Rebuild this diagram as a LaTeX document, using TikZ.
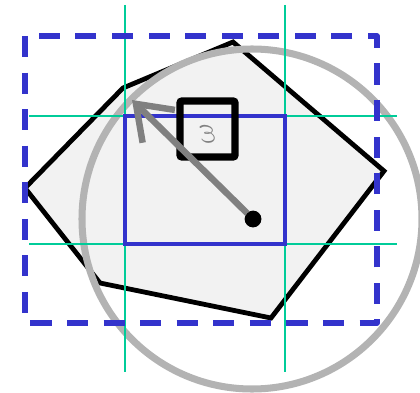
\documentclass[tikz,border=0pt]{standalone}
\usetikzlibrary{arrows.meta}
\definecolor{boxblue}{RGB}{51, 51, 204}
\definecolor{gridgreen}{RGB}{0, 204, 153}
\definecolor{ringgray}{RGB}{179, 179, 179}
\definecolor{arrowgray}{RGB}{128, 128, 128}
\definecolor{shapefill}{RGB}{242, 242, 242}

\begin{document}
\begin{tikzpicture}[
        x=0.025cm, y=-0.025cm,
        hull/.style={draw=black, fill=shapefill, line width=3.4pt, line join=miter},
        guide/.style={gridgreen, line width=1.5pt},
        bbox/.style={draw=boxblue, line width=4pt, dash pattern=on 15pt off 11pt, line join=round},
        cell/.style={draw=boxblue, line width=3.4pt},
        eps/.style={draw=black, line width=5.2pt, rounded corners=1.5pt},
        ring/.style={draw=ringgray, line width=5pt},
        arr/.style={-{Straight Barb[length=0.8cm, width=1.15cm]}, arrowgray, line width=4.6pt, line cap=round}
    ]
        \useasboundingbox (0,0) rectangle (420,393);

        % Shape and circle
        \draw[hull] (233,42) -- (384,171) -- (271,318) -- (100,283) -- (25,188) -- (123,88) -- cycle;
        \draw[ring] (252,219) circle (170);

        % Grid lines
        \draw[guide] (125,5) -- (125,372);
        \draw[guide] (285,5) -- (285,372);
        \draw[guide] (29,116) -- (397,116);
        \draw[guide] (29,244) -- (397,244);

        % Boxes
        \draw[bbox] (25,36) rectangle (377,323);
        \draw[cell] (125,116) rectangle (285,244);

        % Epsilon box
        \draw[eps] (180,101) rectangle (235,157);
        \node[text=arrowgray, inner sep=0pt] (epslabel) at (207,134) {\scalebox{-2.7}[2.7]{$\varepsilon$}};

        % Radius
        \node[circle, fill=black, inner sep=0pt, minimum size=0.42cm] (centre) at (253,219) {};
        \coordinate (tip) at (132,100);
        \draw[arr] (centre.center) -- (tip);
        \fill (centre) circle (8);
    \end{tikzpicture}
\end{document}
